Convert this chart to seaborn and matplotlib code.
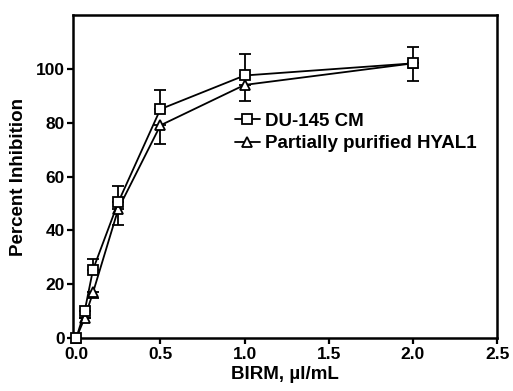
import numpy as np
import pandas as pd
import matplotlib
matplotlib.use("Agg")
import matplotlib.pyplot as plt
import seaborn as sns

# BIRM dose (µl/mL) and percent inhibition (mean ± error)
dose = [0.0, 0.05, 0.1, 0.25, 0.5, 1.0, 2.0]
du145_mean = [0.0, 10.0, 25.5, 50.5, 85.0, 97.5, 102.0]
du145_err = [0.0, 0.0, 4.0, 6.0, 7.0, 8.0, 6.0]
hyal1_mean = [0.0, 7.5, 17.0, 48.0, 79.0, 94.0, 102.0]
hyal1_err = [0.0, 0.0, 2.0, 6.0, 7.0, 6.0, 6.5]

series_labels = ["DU-145 CM", "Partially purified HYAL1"]
x_ticks = [0.0, 0.5, 1.0, 1.5, 2.0, 2.5]
y_ticks = [0, 20, 40, 60, 80, 100]

df_du = pd.DataFrame({"dose": dose, "inhibition": du145_mean})
df_hy = pd.DataFrame({"dose": dose, "inhibition": hyal1_mean})

sns.set_theme(style="ticks")
plt.rcParams["font.family"] = ["Liberation Sans", "DejaVu Sans"]
plt.rcParams["font.weight"] = "bold"
for key in ["text.color", "axes.labelcolor", "xtick.color", "ytick.color",
            "axes.edgecolor"]:
    plt.rcParams[key] = "black"

fig = plt.figure(figsize=(5.13, 3.91), dpi=100)
ax = fig.add_axes([0.142, 0.135, 0.827, 0.827])

line_kw = dict(color="black", linewidth=1.3,
               markerfacecolor="white", markeredgecolor="black",
               markeredgewidth=1.3, clip_on=False)

# lower error bars for the HYAL1 series, upper ones for DU-145
zeros = np.zeros(len(dose))
ax.errorbar(dose, hyal1_mean, yerr=[hyal1_err, zeros], fmt="none",
            ecolor="black", elinewidth=1.3, capsize=4, capthick=1.3, zorder=1)
ax.errorbar(dose, du145_mean, yerr=[zeros, du145_err], fmt="none",
            ecolor="black", elinewidth=1.3, capsize=4, capthick=1.3, zorder=1)

sns.lineplot(data=df_hy, x="dose", y="inhibition", marker="^", markersize=7.5,
             label=series_labels[1], ax=ax, zorder=3, **line_kw)
sns.lineplot(data=df_du, x="dose", y="inhibition", marker="s", markersize=7,
             label=series_labels[0], ax=ax, zorder=4, **line_kw)

ax.set_xlim(-0.02, 2.5)
ax.set_ylim(0, 120)
ax.set_xticks(x_ticks)
ax.set_xticklabels([f"{t:.1f}" for t in x_ticks])
ax.set_yticks(y_ticks)
ax.set_yticklabels([str(t) for t in y_ticks])

for side in ["left", "bottom", "top", "right"]:
    ax.spines[side].set_visible(True)
    ax.spines[side].set_linewidth(1.8)
    ax.spines[side].set_color("black")

ax.tick_params(axis="both", direction="out", length=4, width=1.6,
               colors="black", labelcolor="black", labelsize=12.5, pad=2)
for lab in ax.get_xticklabels() + ax.get_yticklabels():
    lab.set_fontweight("bold")

ax.set_xlabel("BIRM, µl/mL", fontsize=13.5, fontweight="bold", labelpad=3,
              color="black")
ax.set_ylabel("Percent Inhibition", fontsize=13.5, fontweight="bold",
              labelpad=6, color="black")

handles, labels = ax.get_legend_handles_labels()
order = [labels.index(series_labels[0]), labels.index(series_labels[1])]
leg = ax.legend([handles[i] for i in order], [labels[i] for i in order],
                loc="upper left", bbox_to_anchor=(0.365, 0.72),
                frameon=False, handlelength=1.3, handletextpad=0.3,
                labelspacing=0.28, borderaxespad=0,
                prop={"size": 13.5, "weight": "bold"})
for txt in leg.get_texts():
    txt.set_color("black")

fig.savefig("out.png", dpi=100)
